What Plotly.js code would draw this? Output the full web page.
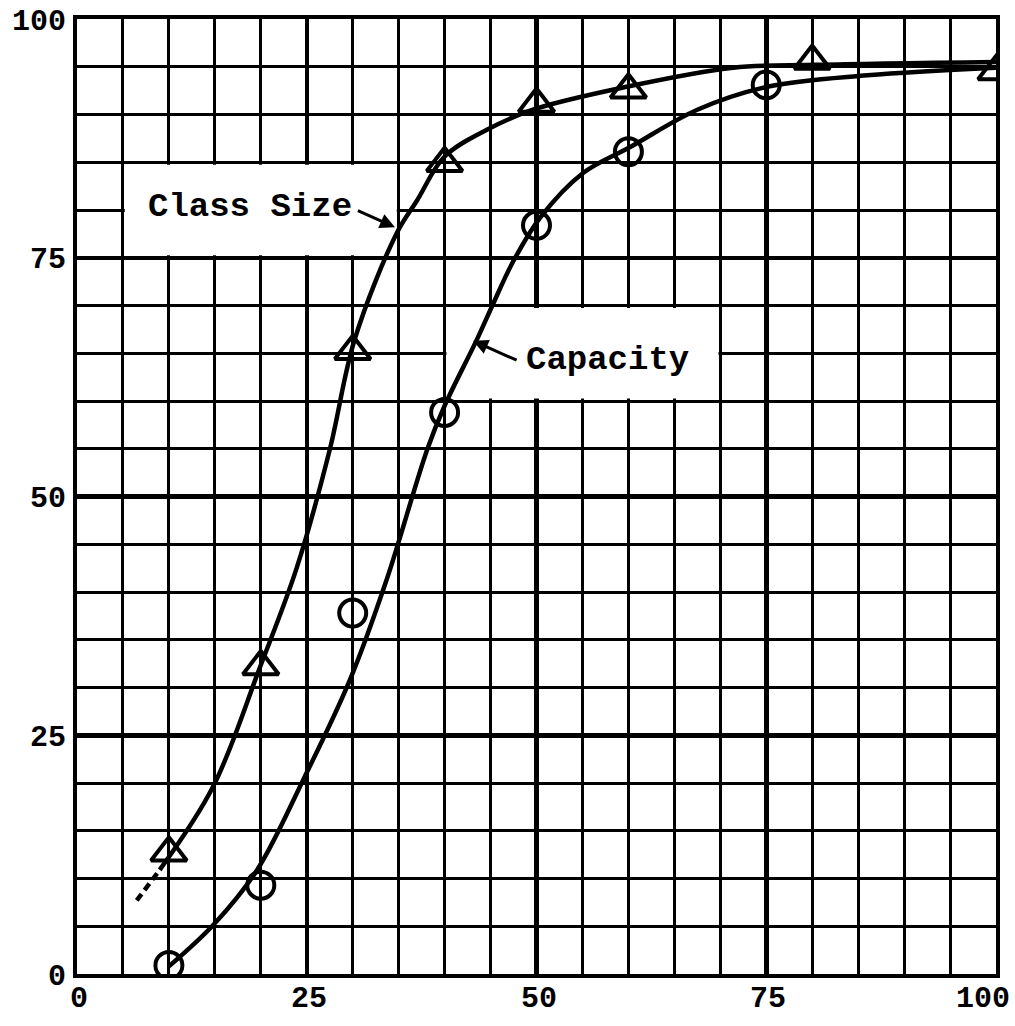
<!DOCTYPE html>
<html><head><meta charset="utf-8">
<script src="https://cdn.plot.ly/plotly-3.0.1.min.js"></script>
<style>html,body{margin:0;padding:0;background:#fff}</style>
</head><body><div id="chart" style="width:1015px;height:1026px"></div>
<script>
// Measured markers
const classSizeX = [10, 20, 30, 40, 50, 60, 80, 100];
const classSizeY = [12.7, 32.2, 65.2, 84.9, 91.1, 92.6, 95.6, 94.5];
const capacityX = [10, 20, 30, 40, 50, 60, 75];
const capacityY = [0.9, 9.3, 37.8, 58.8, 78.4, 86.1, 93.1];

// Hand-drawn fitted curves
const classCurveX = [9, 14.8, 19.9, 23.9, 27.5, 30.2, 34.8, 37, 40, 44.6, 49.6, 59.8, 71.4, 80.5, 100];
const classCurveY = [10.9, 19.6, 32.1, 42.5, 54.9, 66.4, 77.6, 81, 85.6, 88.4, 90.5, 92.9, 94.9, 95.2, 95.5];
const classDashX = [6.5, 9];
const classDashY = [7.7, 10.9];
const capCurveX = [10, 14.8, 19.6, 24.6, 29.7, 33.7, 38.1, 40, 43.5, 45.2, 47.4, 50.4, 55.1, 60.2, 67.5, 75.1, 86, 100];
const capCurveY = [0.8, 5.1, 10.9, 20.3, 30.8, 41.3, 54.9, 59.5, 66.4, 70, 74.5, 79.2, 83.9, 86.6, 90.5, 92.9, 94.1, 94.9];

// Axis ticks
const xTickVals = [0, 25, 50, 75, 100];
const xTickText = ['0', '25', '50', '75', '100'];
const yTickVals = [0, 25, 50, 75, 100];
const yTickText = ['0', '25', '50', '75', '100'];

// Labels
const labelClass = 'Class Size';
const labelCap = 'Capacity';

const INK = '#000';
const lineStyle = {color: INK, width: 4.5, shape: 'spline', smoothing: 1};

const traces = [
  {x: classCurveX, y: classCurveY, mode: 'lines', line: lineStyle, hoverinfo: 'skip', showlegend: false},
  {x: classDashX, y: classDashY, mode: 'lines', line: {color: INK, width: 4.5, dash: '8px,5px'}, hoverinfo: 'skip', showlegend: false},
  {x: capCurveX, y: capCurveY, mode: 'lines', line: lineStyle, hoverinfo: 'skip', showlegend: false},
  {x: classSizeX, y: classSizeY, mode: 'markers', name: labelClass,
   marker: {symbol: 'triangle-up-open', size: 31, color: INK, line: {color: INK, width: 4}}, showlegend: false},
  {x: capacityX, y: capacityY, mode: 'markers', name: labelCap,
   marker: {symbol: 'circle-open', size: 27, color: INK, line: {color: INK, width: 4}}, showlegend: false}
];

const tickFont = {family: 'Liberation Mono, DejaVu Sans Mono, monospace', size: 30, color: INK, weight: 'bold'};

const axisCommon = {
  range: [0, 100], fixedrange: true,
  showgrid: true, gridcolor: INK, gridwidth: 4.5,
  showline: true, linecolor: INK, linewidth: 4, mirror: true,
  ticks: '', zeroline: false,
  tickfont: tickFont,
  minor: {tickmode: 'linear', tick0: 0, dtick: 5, showgrid: true, gridcolor: INK, gridwidth: 3, ticks: ''}
};

// x tick labels drawn as text annotations so the last one stays inside the page
const xLabelAnn = xTickVals.map((v, i) => ({
  x: v, y: 0, xref: 'x', yref: 'paper', yanchor: 'top',
  xanchor: i === xTickVals.length - 1 ? 'right' : 'center',
  xshift: i === xTickVals.length - 1 ? 16 : 2,
  yshift: -6,
  text: xTickText[i], showarrow: false, font: tickFont
}));

const layout = {
  width: 1015, height: 1026,
  margin: {l: 77, r: 19, t: 19, b: 52},
  paper_bgcolor: '#fff', plot_bgcolor: '#fff',
  showlegend: false,
  xaxis: Object.assign({}, axisCommon, {tickmode: 'array', tickvals: xTickVals, ticktext: xTickText, showticklabels: false}),
  yaxis: Object.assign({}, axisCommon, {tickmode: 'array', tickvals: yTickVals, ticktext: yTickText, ticklabelstandoff: 1}),
  shapes: [
    {type: 'rect', xref: 'x', yref: 'y', x0: 5.2, x1: 34.8, y0: 75.25, y1: 84.75, fillcolor: '#fff', line: {width: 0}, layer: 'between'},
    {type: 'rect', xref: 'x', yref: 'y', x0: 40.2, x1: 69.8, y0: 60.25, y1: 69.75, fillcolor: '#fff', line: {width: 0}, layer: 'between'}
  ],
  annotations: xLabelAnn.concat([
    {x: 18.8, y: 80.3, xref: 'x', yref: 'y', text: '<b>' + labelClass + '</b>', showarrow: false,
     font: {family: 'Liberation Mono, monospace', size: 34, color: INK}},
    {x: 57.7, y: 64.3, xref: 'x', yref: 'y', text: '<b>' + labelCap + '</b>', showarrow: false,
     font: {family: 'Liberation Mono, monospace', size: 34, color: INK}},
    {x: 34.6, y: 78.2, ax: 30.4, ay: 80.0, xref: 'x', yref: 'y', axref: 'x', ayref: 'y',
     text: '', showarrow: true, arrowhead: 2, arrowsize: 1, arrowwidth: 3, arrowcolor: INK, standoff: 0, startstandoff: 0},
    {x: 43.1, y: 66.3, ax: 48.0, ay: 64.2, xref: 'x', yref: 'y', axref: 'x', ayref: 'y',
     text: '', showarrow: true, arrowhead: 2, arrowsize: 1, arrowwidth: 3, arrowcolor: INK, standoff: 0, startstandoff: 0}
  ])
};

Plotly.newPlot('chart', traces, layout, {displayModeBar: false, staticPlot: true});
</script>
</body></html>
